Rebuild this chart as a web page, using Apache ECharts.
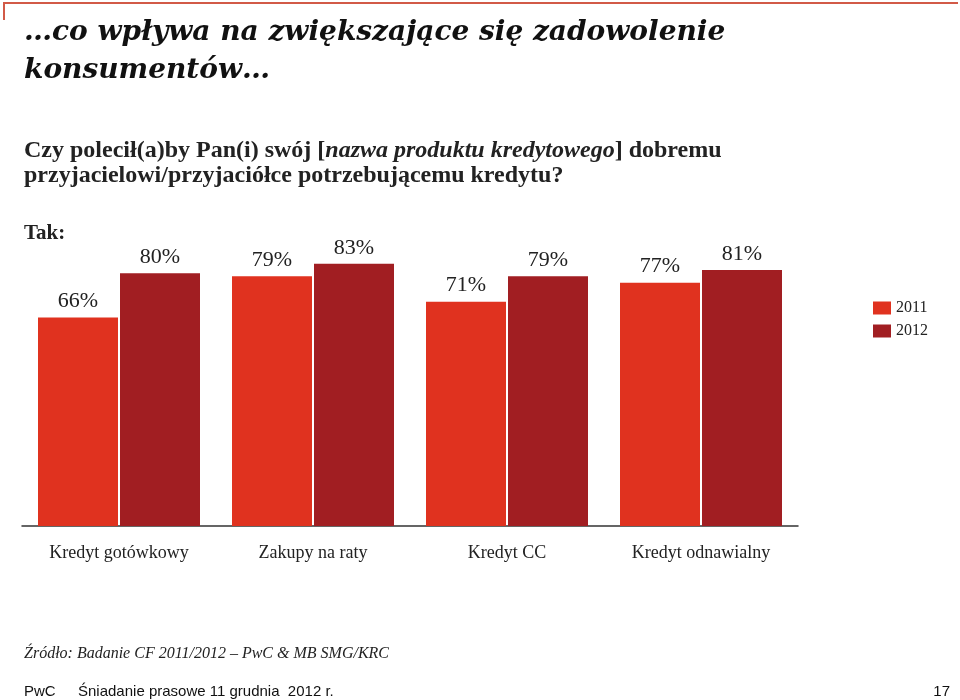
<!DOCTYPE html>
<html>
<head>
<meta charset="utf-8">
<script src="https://cdn.jsdelivr.net/npm/echarts@6/dist/echarts.min.js"></script>
<style>
html,body{margin:0;padding:0;background:#fff;}
#chart{width:960px;height:700px;}
</style>
</head>
<body>
<div id="chart"></div>
<script>
const categories = ['Kredyt gotówkowy', 'Zakupy na raty', 'Kredyt CC', 'Kredyt odnawialny'];
const seriesNames = ['2011', '2012'];
const values2011 = [66, 79, 71, 77];
const values2012 = [80, 83, 79, 81];

const serif = '"Liberation Serif", "DejaVu Serif", serif';
const sans = '"Liberation Sans", Arial, sans-serif';
const chart = echarts.init(document.getElementById('chart'));
chart.setOption({
  backgroundColor: '#fff',
  animation: false,
  title: [
    {
      text: '…co wpływa na zwiększające się zadowolenie\nkonsumentów…',
      left: 24, top: 14, padding: 0,
      textStyle: {fontFamily: '"DejaVu Serif", serif', fontStyle: 'italic', fontWeight: 'bold', fontSize: 28, lineHeight: 38, color: '#111'}
    },
    {
      text: '{b|Czy polecił(a)by Pan(i) swój [}{i|nazwa produktu kredytowego}{b|] dobremu}\n{b|przyjacielowi/przyjaciółce potrzebującemu kredytu?}',
      left: 24, top: 138, padding: 0,
      textStyle: {
        lineHeight: 25,
        rich: {
          b: {fontFamily: serif, fontWeight: 'bold', fontSize: 24, lineHeight: 25, color: '#222'},
          i: {fontFamily: serif, fontWeight: 'bold', fontStyle: 'italic', fontSize: 24, lineHeight: 25, color: '#222'}
        }
      }
    },
    {
      text: 'Tak:',
      left: 24, top: 223, padding: 0,
      textStyle: {fontFamily: serif, fontWeight: 'bold', fontSize: 21, color: '#222'}
    },
    {
      text: 'Źródło: Badanie CF 2011/2012 – PwC & MB SMG/KRC',
      left: 24, top: 646, padding: 0,
      textStyle: {fontFamily: serif, fontStyle: 'italic', fontWeight: 'normal', fontSize: 16, color: '#222'}
    },
    {
      text: 'PwC',
      left: 24, top: 684, padding: 0,
      textStyle: {fontFamily: sans, fontWeight: 'normal', fontSize: 15, color: '#111'}
    },
    {
      text: 'Śniadanie prasowe 11 grudnia  2012 r.',
      left: 78, top: 684, padding: 0,
      textStyle: {fontFamily: sans, fontWeight: 'normal', fontSize: 15, color: '#111'}
    },
    {
      text: '17',
      right: 10, top: 684, padding: 0,
      textStyle: {fontFamily: sans, fontWeight: 'normal', fontSize: 15, color: '#111'}
    }
  ],
  graphic: [
    {
      type: 'polyline',
      shape: {points: [[4, 20], [4, 3], [958, 3]]},
      style: {stroke: '#d25a47', lineWidth: 2, fill: null}
    }
  ],
  legend: {
    data: seriesNames,
    orient: 'vertical',
    left: 873, top: 300, padding: 0,
    itemWidth: 18, itemHeight: 13, itemGap: 7,
    icon: 'rect',
    textStyle: {fontFamily: serif, fontSize: 16, color: '#222'}
  },
  grid: {left: 22, right: 162, top: 210, bottom: 174, containLabel: false},
  xAxis: {
    type: 'category',
    data: categories,
    axisLine: {lineStyle: {color: '#333', width: 1.5}},
    axisTick: {show: false},
    axisLabel: {margin: 18, fontFamily: serif, fontSize: 18, color: '#222'}
  },
  yAxis: {
    type: 'value', min: 0, max: 100,
    show: false, splitLine: {show: false}
  },
  series: [
    {
      name: seriesNames[0], type: 'bar', data: values2011,
      barWidth: 80, barGap: '2.5%',
      itemStyle: {color: '#e0321f'},
      label: {show: true, position: 'top', distance: 5, formatter: '{c}%', fontFamily: serif, fontSize: 22, color: '#222'}
    },
    {
      name: seriesNames[1], type: 'bar', data: values2012,
      barWidth: 80, barGap: '2.5%',
      itemStyle: {color: '#a11e22'},
      label: {show: true, position: 'top', distance: 5, formatter: '{c}%', fontFamily: serif, fontSize: 22, color: '#222'}
    }
  ]
});
</script>
</body>
</html>
